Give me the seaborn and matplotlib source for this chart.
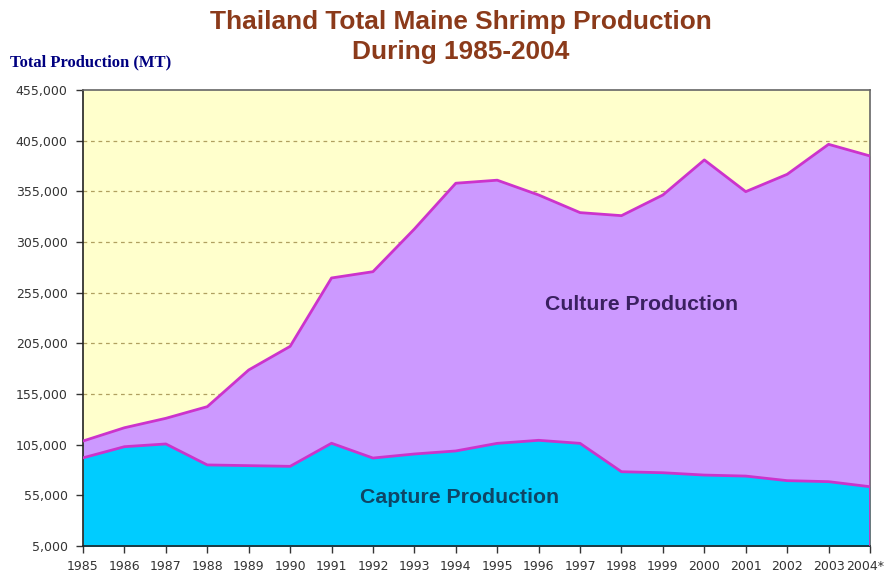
import matplotlib
matplotlib.use("Agg")
import matplotlib.pyplot as plt
from matplotlib.transforms import ScaledTranslation
import seaborn as sns
import pandas as pd

# Thai marine shrimp output (metric tonnes)
years = ["1985", "1986", "1987", "1988", "1989", "1990", "1991", "1992", "1993", "1994",
         "1995", "1996", "1997", "1998", "1999", "2000", "2001", "2002", "2003", "2004*"]
capture = [92000, 103000, 105700, 85000, 84300, 83600, 106400, 91800, 95800, 98800,
           106300, 109300, 106300, 78300, 77300, 75000, 74000, 69500, 68500, 63500]
total = [108600, 121700, 131000, 142500, 178700, 202000, 269500, 275700, 317800, 363000,
         366000, 351400, 334000, 331000, 351400, 386000, 354700, 371800, 401400, 389900]
culture = [t - c for t, c in zip(total, capture)]

y_ticks = list(range(5000, 455001, 50000))

df = pd.DataFrame({"idx": range(len(years)), "year": years,
                   "capture": capture, "culture": culture})
df["total"] = df["capture"] + df["culture"]

sns.set_theme(style="white")
plt.rcParams["font.family"] = ["DejaVu Sans"]

fig = plt.figure(figsize=(8.88, 5.76), dpi=100)
ax = fig.add_axes([83 / 888, 30 / 576, 787 / 888, 456 / 576])
ax.set_facecolor("#FFFFCC")

ax.fill_between(df["idx"], 0, df["capture"], color="#00CCFF", lw=0, zorder=2)
ax.fill_between(df["idx"], df["capture"], df["total"], color="#CC99FF", lw=0, zorder=2)
sns.lineplot(data=df, x="idx", y="capture", color="#CC33CC", lw=2, ax=ax, zorder=3)
sns.lineplot(data=df, x="idx", y="total", color="#CC33CC", lw=2, ax=ax, zorder=3)
ax.plot([df["idx"].iloc[-1]] * 2, [5000, df["total"].iloc[-1]], color="#CC33CC", lw=2, zorder=3)

ax.set_xlim(0, len(years) - 1)
ax.set_ylim(5000, 455000)
ax.set_yticks(y_ticks)
ax.set_yticklabels([f"{v:,}" for v in y_ticks], fontsize=9, color="#333333")
ax.set_xticks(df["idx"])
ax.set_xticklabels(years, fontsize=9, color="#333333")
ax.tick_params(axis="both", direction="out", length=5, width=1, color="#333333")
ax.tick_params(axis="y", left=True, pad=6)
ax.tick_params(axis="x", bottom=True, pad=5)
ax.set_xlabel("")
ax.set_ylabel("")

# keep the trailing year label inside the canvas
last = ax.get_xticklabels()[-1]
last.set_transform(last.get_transform() + ScaledTranslation(-5 / 100, 0, fig.dpi_scale_trans))

for v in y_ticks[1:-1]:
    ax.axhline(v, color="#B0A060", lw=0.9, ls=(0, (3, 3)), zorder=1)

for side in ["left", "bottom"]:
    ax.spines[side].set_color("#222222")
    ax.spines[side].set_linewidth(1.2)
for side in ["top", "right"]:
    ax.spines[side].set_color("#666666")
    ax.spines[side].set_linewidth(1.2)

ax.text(13.48, 243000, "Culture Production", fontsize=15.3, fontweight="bold",
        color="#3A2060", ha="center", va="center", zorder=4, family=["Liberation Sans"])
ax.text(9.1, 52400, "Capture Production", fontsize=15.3, fontweight="bold",
        color="#0F4565", ha="center", va="center", zorder=4, family=["Liberation Sans"])

fig.text(461 / 888, 1 - 22 / 576, "Thailand Total Maine Shrimp Production",
         fontsize=18.9, fontweight="bold", color="#8B3A1A", ha="center", va="center",
         family=["Liberation Sans"])
fig.text(461 / 888, 1 - 52 / 576, "During 1985-2004",
         fontsize=18.9, fontweight="bold", color="#8B3A1A", ha="center", va="center",
         family=["Liberation Sans"])
fig.text(10 / 888, 1 - 62 / 576, "Total Production (MT)", fontsize=12, fontweight="bold",
         color="#000080", ha="left", va="center", family=["Liberation Serif"])

fig.savefig("out.png", dpi=100, facecolor="white")
